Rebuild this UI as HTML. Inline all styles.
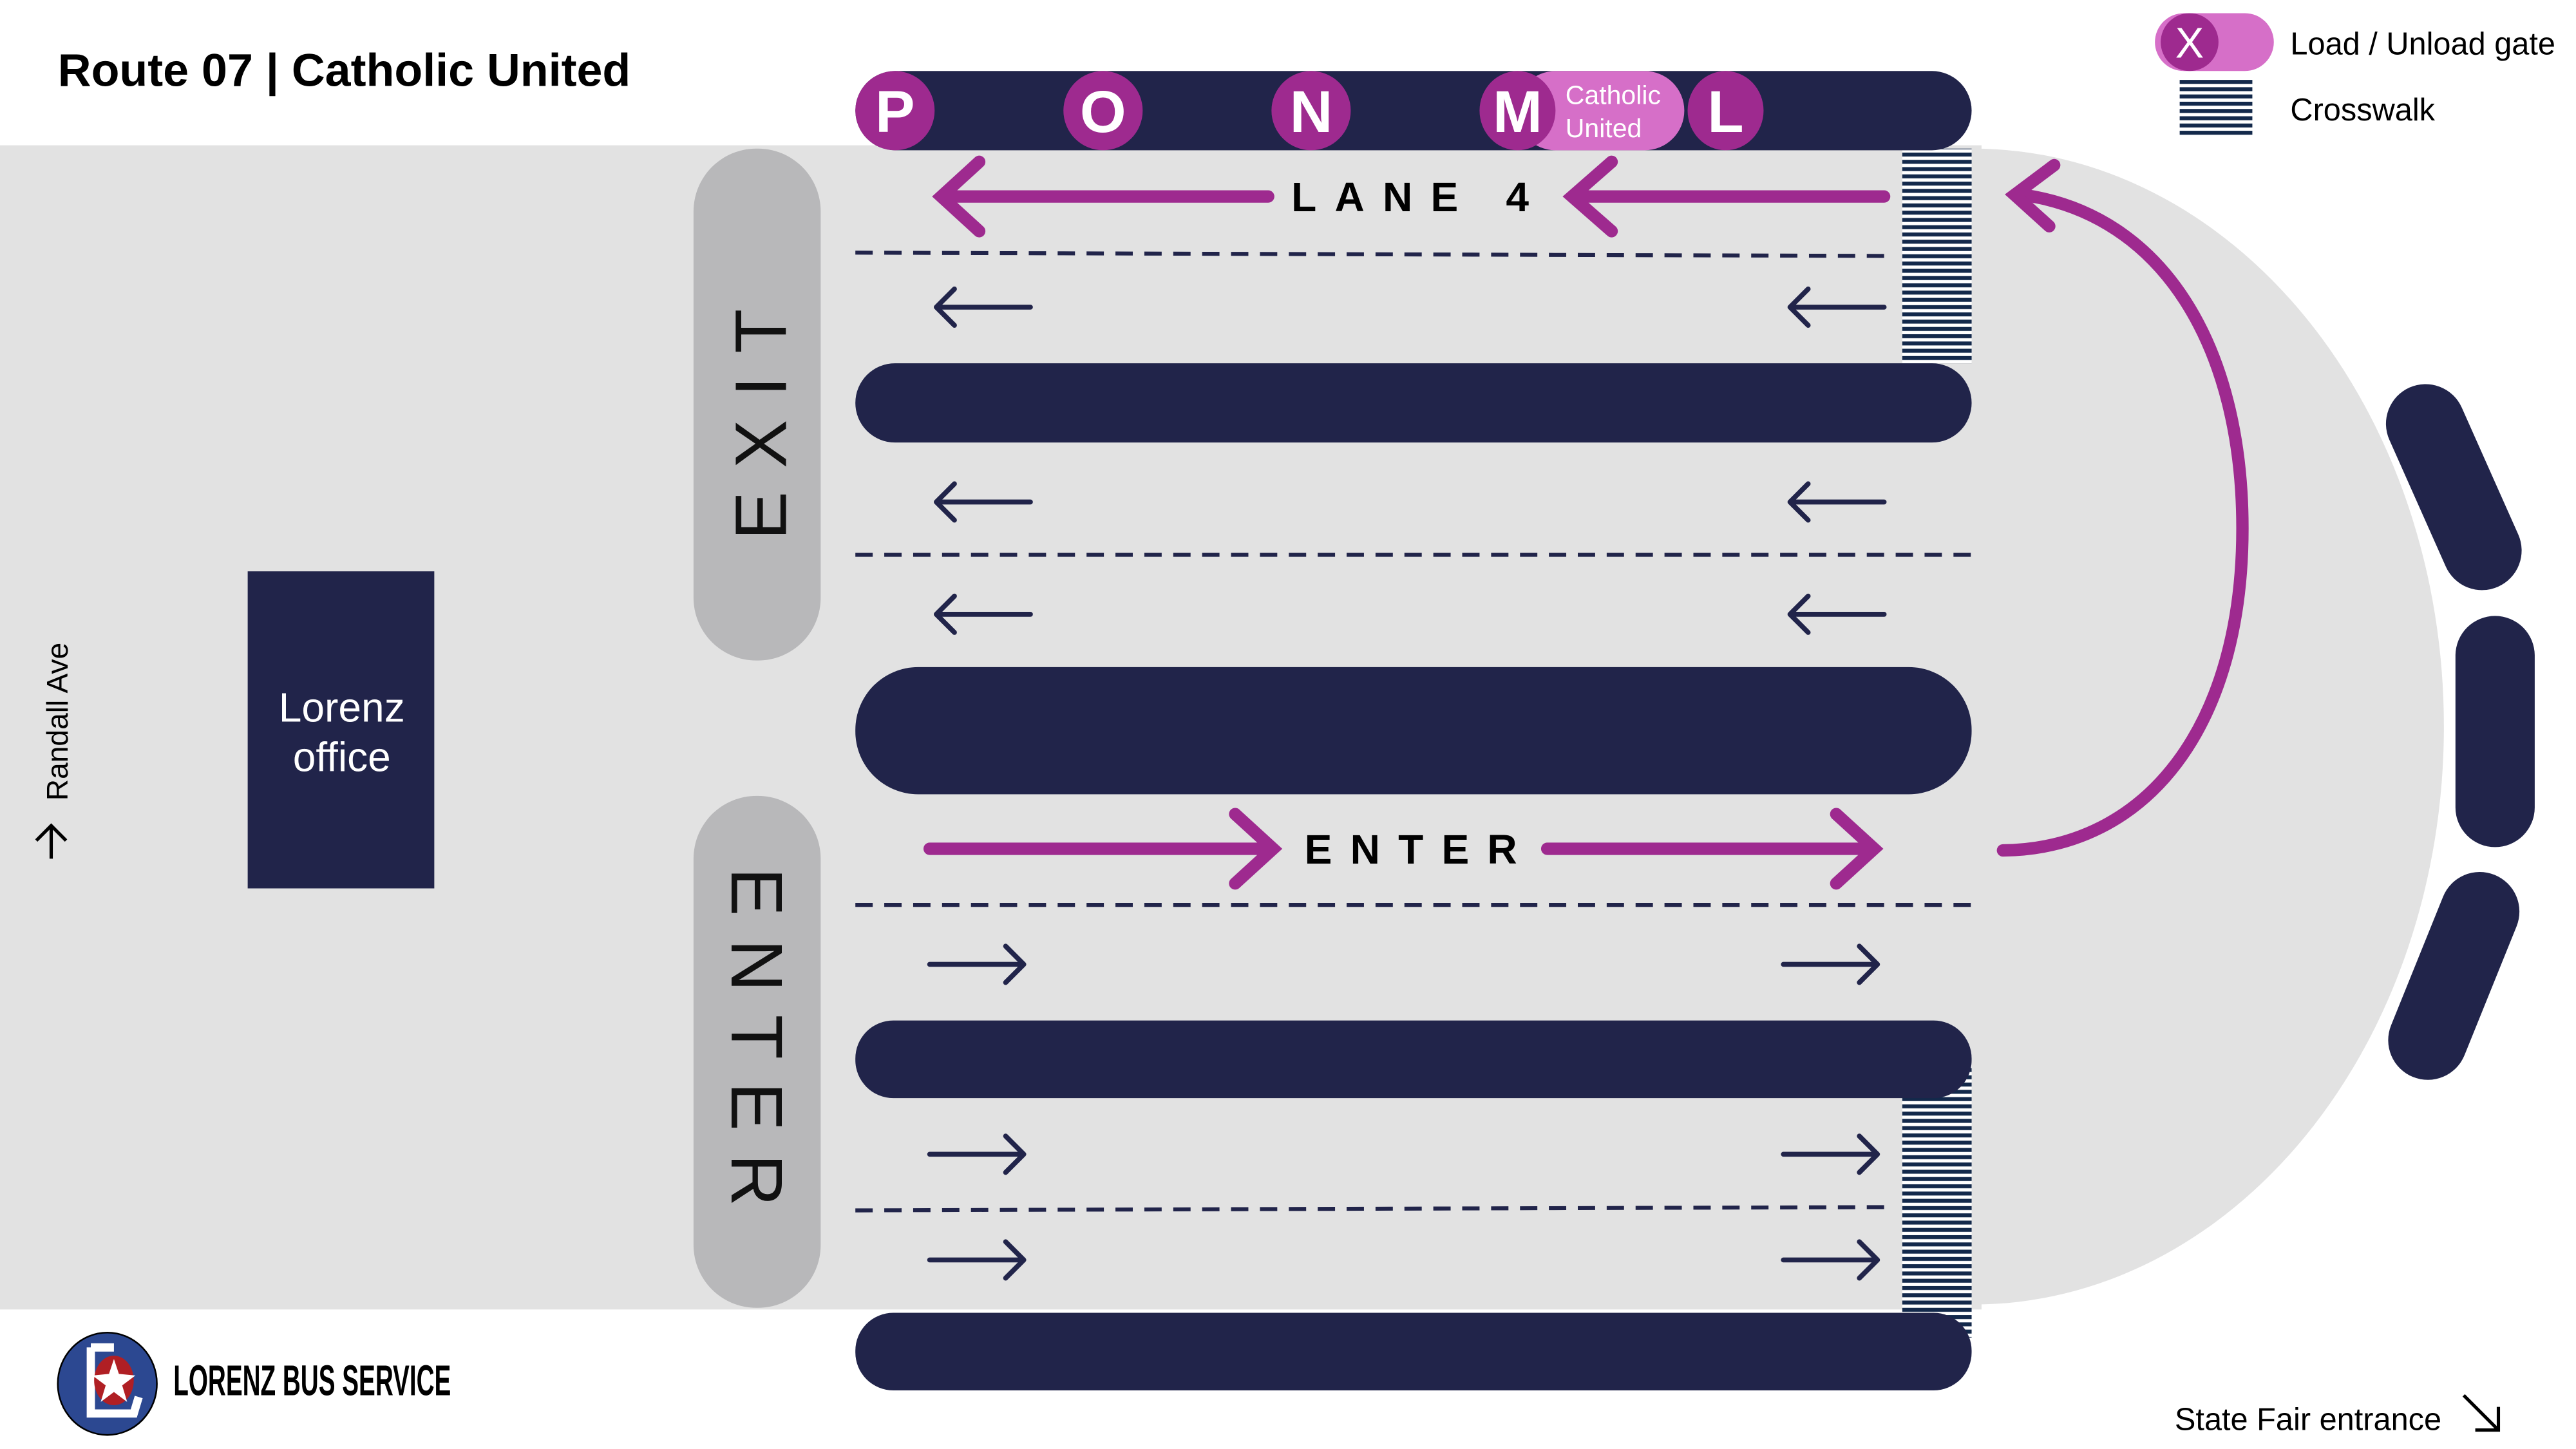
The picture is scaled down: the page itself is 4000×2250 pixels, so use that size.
<!DOCTYPE html>
<html><head><meta charset="utf-8"><style>
html,body{margin:0;padding:0;background:#fff;}
svg{display:block;}
text{font-family:"Liberation Sans",sans-serif;}
</style></head><body>
<svg width="4000" height="2250" viewBox="0 0 1560 877.5" xmlns="http://www.w3.org/2000/svg">
<defs>
<pattern id="cw" width="10" height="4.4" patternUnits="userSpaceOnUse">
<rect width="10" height="4.4" fill="#fff"/><rect width="10" height="2.4" fill="#13294b"/>
</pattern>
</defs>
<rect width="1560" height="877.5" fill="#fff"/>
<ellipse cx="1195" cy="440" rx="285" ry="350" fill="#e2e2e2"/>
<rect x="0" y="88" width="1200" height="705" fill="#e2e2e2"/>

<rect x="1152" y="90" width="42" height="130" fill="url(#cw)"/>
<rect x="1152" y="645" width="42" height="165" fill="url(#cw)"/>

<rect x="518" y="43" width="676" height="48" rx="24" fill="#21244a"/>
<rect x="918" y="43" width="102" height="48" rx="24" fill="#d66fc8"/>
<g fill="#9e2a8f">
<circle cx="542" cy="67" r="24"/><circle cx="668" cy="67" r="24"/><circle cx="794" cy="67" r="24"/>
<ellipse cx="919" cy="67" rx="23" ry="24"/><ellipse cx="1045" cy="67" rx="23" ry="24"/>
</g>
<g fill="#fff" font-weight="bold" font-size="36" text-anchor="middle">
<text x="542" y="80">P</text><text x="668" y="80">O</text><text x="794" y="80">N</text><text x="919" y="80">M</text><text x="1045" y="80">L</text>
</g>
<text x="948" y="63" font-size="16" fill="#fff">Catholic</text>
<text x="948" y="83" font-size="16" fill="#fff">United</text>

<g fill="#21244a">
<rect x="518" y="220" width="676" height="48" rx="24"/>
<rect x="518" y="404" width="676" height="77" rx="38"/>
<rect x="518" y="618" width="676" height="47" rx="23"/>
<rect x="518" y="795" width="676" height="47" rx="23"/>
<rect x="150" y="346" width="113" height="192"/>
</g>
<text x="207" y="437" font-size="25" fill="#fff" text-anchor="middle">Lorenz</text>
<text x="207" y="467" font-size="25" fill="#fff" text-anchor="middle">office</text>

<rect x="420" y="90" width="77" height="310" rx="38" fill="#b8b8ba"/>
<rect x="420" y="482" width="77" height="310" rx="38" fill="#b8b8ba"/>
<text transform="translate(476,250) rotate(-90)" font-size="44" fill="#111" text-anchor="middle" letter-spacing="14">EXIT</text>
<text transform="translate(443,635) rotate(90)" font-size="44" fill="#111" text-anchor="middle" letter-spacing="14">ENTER</text>

<g stroke="#21244a" stroke-width="2.4" stroke-dasharray="10.5 7" fill="none">
<line x1="518" y1="153" x2="1145" y2="155"/>
<line x1="518" y1="336" x2="1196" y2="336"/>
<line x1="518" y1="548" x2="1196" y2="548"/>
<line x1="518" y1="733" x2="1145" y2="731"/>
</g>

<g stroke="#21244a" stroke-width="3" fill="none" stroke-linecap="round" stroke-linejoin="round">
<path d="M624,186H567M578,175L567,186L578,197"/>
<path d="M1141,186H1084M1095,175L1084,186L1095,197"/>
<path d="M624,304H567M578,293L567,304L578,315"/>
<path d="M1141,304H1084M1095,293L1084,304L1095,315"/>
<path d="M624,372H567M578,361L567,372L578,383"/>
<path d="M1141,372H1084M1095,361L1084,372L1095,383"/>
<path d="M563,584H620M609,573L620,584L609,595"/>
<path d="M1080,584H1137M1126,573L1137,584L1126,595"/>
<path d="M563,699H620M609,688L620,699L609,710"/>
<path d="M1080,699H1137M1126,688L1137,699L1126,710"/>
<path d="M563,763H620M609,752L620,763L609,774"/>
<path d="M1080,763H1137M1126,752L1137,763L1126,774"/>
</g>

<g stroke="#9e2a8f" stroke-width="7.5" fill="none" stroke-linecap="round" stroke-linejoin="miter">
<path d="M768,119H572M593,98L570,119L593,140"/>
<path d="M1141,119H954M976,98L952,119L976,140"/>
<path d="M563,514H770M748,493L771,514L748,535"/>
<path d="M937,514H1134M1112,493L1135,514L1112,535"/>
<path d="M1213,515C1300,514 1358,440 1358,320C1358,210 1310,130 1225,118"/>
<path d="M1244,100L1220,118L1241,137"/>
</g>
<text x="782" y="128" font-size="25" font-weight="bold" fill="#000" letter-spacing="11">LANE 4</text>
<text x="790" y="523" font-size="25" font-weight="bold" fill="#000" letter-spacing="11">ENTER</text>

<g fill="#21244a">
<rect x="-24" y="-66" width="48" height="132" rx="24" transform="translate(1486,295) rotate(-24)"/>
<rect x="1487" y="373" width="48" height="140" rx="24"/>
<rect x="-24" y="-66" width="48" height="132" rx="24" transform="translate(1486,591) rotate(22)"/>
</g>

<text x="35" y="52" font-size="28" font-weight="bold" fill="#000">Route 07 | Catholic United</text>

<rect x="1305" y="8" width="72" height="35" rx="17.5" fill="#d66fc8"/>
<circle cx="1326" cy="25.5" r="17.5" fill="#9e2a8f"/>
<text x="1326" y="35" font-size="26" fill="#fff" text-anchor="middle">X</text>
<text x="1387" y="33" font-size="19" fill="#000">Load / Unload gate</text>
<rect x="1320" y="47" width="44" height="36" fill="url(#cw)"/>
<text x="1387" y="73" font-size="19" fill="#000">Crosswalk</text>

<text transform="translate(41,437) rotate(-90)" font-size="18" fill="#000" text-anchor="middle">Randall Ave</text>
<path d="M31,520V500M22,509L31,500L40,509" stroke="#000" stroke-width="2" fill="none"/>

<text x="1317" y="866" font-size="19" fill="#000">State Fair entrance</text>
<path d="M1492,845L1513,866M1513,852V866H1499" stroke="#000" stroke-width="2" fill="none"/>

<ellipse cx="65" cy="838" rx="30" ry="31" fill="#2c4891" stroke="#000" stroke-width="1"/>
<path d="M55,816h14M55,816v40h26l3,-10" stroke="#fff" stroke-width="5" fill="none"/>
<ellipse cx="69" cy="836" rx="12" ry="15" fill="#b01f24"/>
<polygon points="69,823 72,832 82,833 74,839 77,849 69,843 61,849 64,839 56,833 66,832" fill="#fff"/>
<text x="105" y="845" font-size="26" font-weight="bold" fill="#000" transform="translate(105,845) scale(0.58,1) translate(-105,-845)">LORENZ BUS SERVICE</text>
</svg>
</body></html>
